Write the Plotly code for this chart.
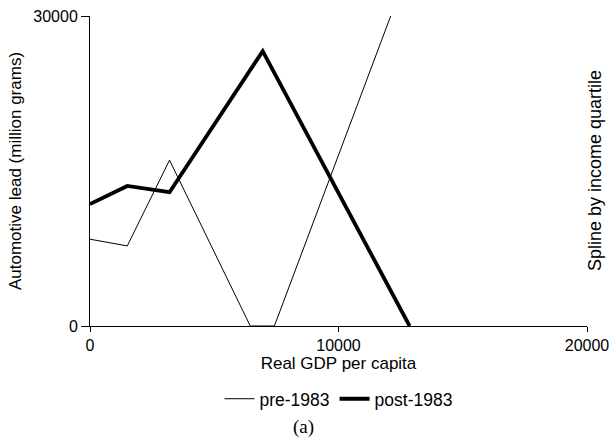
import plotly.graph_objects as go

# Data
pre_x = [0, 1500, 3200, 6450, 7420, 12100]
pre_y = [8400, 7750, 16050, 0, 0, 30000]
post_x = [0, 1500, 3200, 6950, 12860]
post_y = [11800, 13550, 12950, 26600, 0]

x_ticks = [0, 10000, 20000]
y_ticks = [0, 30000]

FONT = "Liberation Sans, Arial, sans-serif"

fig = go.Figure()
fig.add_trace(go.Scatter(x=pre_x, y=pre_y, mode="lines", name="pre-1983",
                         line=dict(color="black", width=1)))
fig.add_trace(go.Scatter(x=post_x, y=post_y, mode="lines", name="post-1983",
                         line=dict(color="black", width=3.8)))

fig.update_layout(
    width=610, height=448,
    margin=dict(l=90, r=23, t=16, b=122, autoexpand=False),
    paper_bgcolor="white", plot_bgcolor="white",
    font=dict(family=FONT, size=16, color="black"),
    showlegend=True,
    legend=dict(orientation="h", x=0.5, xanchor="center", y=-0.235, yanchor="middle",
                font=dict(size=17.5), itemwidth=30, tracegroupgap=0),
    xaxis=dict(range=[0, 20000], tickvals=x_ticks, ticktext=[str(v) for v in x_ticks],
               showgrid=False, zeroline=False, showline=True, linecolor="black", linewidth=1,
               ticks="outside", ticklen=5, tickcolor="black", automargin=False,
               title=dict(text="Real GDP per capita", standoff=0, font=dict(size=17))),
    yaxis=dict(range=[0, 30000], tickvals=y_ticks, ticktext=[str(v) for v in y_ticks],
               showgrid=False, zeroline=False, showline=True, linecolor="black", linewidth=1,
               ticks="outside", ticklen=8, tickcolor="black", automargin=False,
               title=dict(text="Automotive lead (million grams)", standoff=7, font=dict(size=17))),
    yaxis2=dict(range=[0, 30000], overlaying="y", side="left", tickvals=y_ticks,
                showticklabels=False, showgrid=False, zeroline=False, showline=False,
                ticks="inside", ticklen=7, tickcolor="black", automargin=False),
)

# invisible trace to activate yaxis2
fig.add_trace(go.Scatter(x=[None], y=[None], yaxis="y2", showlegend=False, hoverinfo="skip"))

fig.add_annotation(text="Spline by income quartile", xref="paper", yref="paper",
                   x=1.016, y=0.503, xanchor="center", yanchor="middle", textangle=-90,
                   showarrow=False, font=dict(size=18, family=FONT))
fig.add_annotation(text="(a)", xref="paper", yref="paper",
                   x=0.43, y=-0.325, xanchor="center", yanchor="middle",
                   showarrow=False, font=dict(size=19, family="Liberation Serif, Times New Roman, serif"))

fig.write_html("out.html", config={"displayModeBar": False},
               post_script="document.body.style.margin='0';document.body.style.padding='0';")
